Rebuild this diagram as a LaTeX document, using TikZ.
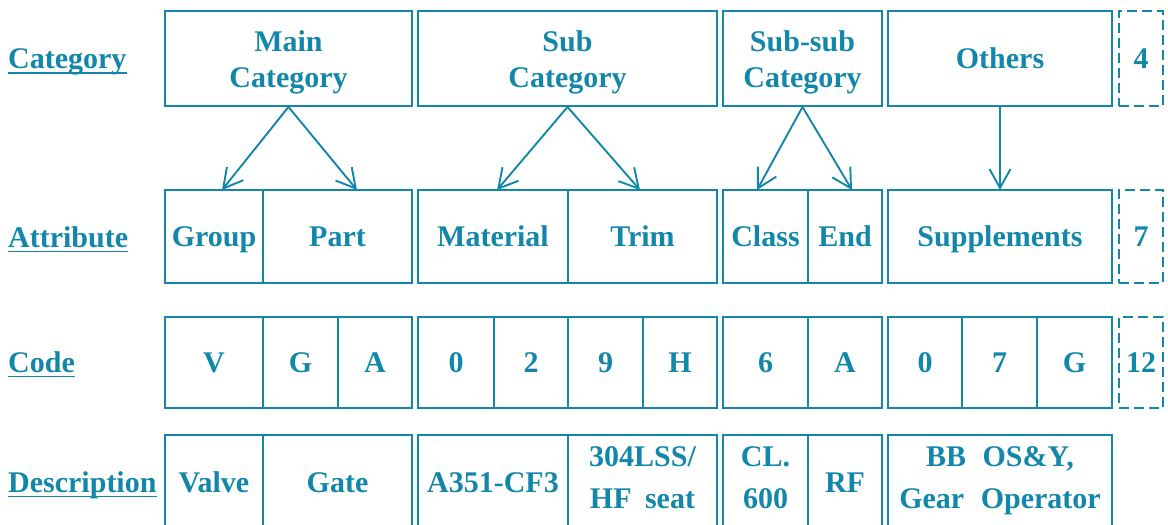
\documentclass[tikz,border=0pt]{standalone}
\usepackage{fontspec}
\setmainfont{Liberation Serif}
\usetikzlibrary{arrows.meta}
\definecolor{ink}{RGB}{18,135,170}
\newcommand\bigbf{\bfseries\fontsize{30}{32}\selectfont}
\tikzset{
  box/.style={draw=ink, line width=1.9pt, inner sep=0pt, text=ink, font=\bigbf,
    text height=19.5pt, text depth=0pt},
  dbox/.style={box, dash pattern=on 10pt off 5pt},
  word/.style={text=ink, font=\bigbf, inner sep=0pt, anchor=base},
  rowlabel/.style={word, anchor=base west},
  uline/.style={draw=ink, line width=1.5pt},
  link/.style={draw=ink, line width=1.9pt,
    -{Straight Barb[length=19pt,width=21pt,line width=1.9pt]}},
}
% \cellbox{name}{x left}{x right}{y top}{y bottom}{text}
\newcommand\cellbox[6]{\node[box, minimum width=#3pt-#2pt, minimum height=#5pt-#4pt]
  (#1) at ({(#2+#3)/2},{(#4+#5)/2}) {#6};}
\newcommand\dcellbox[6]{\node[dbox, minimum width=#3pt-#2pt, minimum height=#5pt-#4pt]
  (#1) at ({(#2+#3)/2},{(#4+#5)/2}) {#6};}
\begin{document}
\begin{tikzpicture}[x=1pt,y=-1pt]
\useasboundingbox (0,0) rectangle (1168,525);

% row labels
\node[rowlabel] (lcat) at (8,68.5) {Category};
\node[rowlabel] (latt) at (8,247) {Attribute};
\node[rowlabel] (lcode) at (8,372) {Code};
\node[rowlabel] (ldesc) at (8,492) {Description};
\foreach \n in {lcat,latt,lcode,ldesc}
  \draw[uline] ([yshift=-4.5pt]\n.base west) -- ([yshift=-4.5pt]\n.base east);

% category row
\cellbox{main}{165}{412}{11}{106}{}
\node[word] (mainA) at (288.5,51) {Main};
\node[word] (mainB) at (288.5,87) {Category};
\cellbox{sub}{418}{717}{11}{106}{}
\node[word] (subA) at (567.5,51) {Sub};
\node[word] (subB) at (567.5,87) {Category};
\cellbox{ssub}{723}{882}{11}{106}{}
\node[word] (ssubA) at (802.5,51) {Sub-sub};
\node[word] (ssubB) at (802.5,87) {Category};
\cellbox{oth}{888}{1112}{11}{106}{Others}
\dcellbox{n4}{1119}{1163}{11}{106}{4}

% attribute row
\cellbox{group}{165}{263}{190}{283}{Group}
\cellbox{part}{263}{412}{190}{283}{Part}
\cellbox{mat}{418}{568}{190}{283}{Material}
\cellbox{trim}{568}{717}{190}{283}{Trim}
\cellbox{class}{723}{808}{190}{283}{Class}
\cellbox{end}{808}{882}{190}{283}{End}
\cellbox{supp}{888}{1112}{190}{283}{Supplements}
\dcellbox{n7}{1119}{1163}{190}{283}{7}

% code row
\cellbox{c1}{165}{263}{317}{408}{V}
\cellbox{c2}{263}{338}{317}{408}{G}
\cellbox{c3}{338}{412}{317}{408}{A}
\cellbox{c4}{418}{494}{317}{408}{0}
\cellbox{c5}{494}{568}{317}{408}{2}
\cellbox{c6}{568}{643}{317}{408}{9}
\cellbox{c7}{643}{717}{317}{408}{H}
\cellbox{c8}{723}{808}{317}{408}{6}
\cellbox{c9}{808}{882}{317}{408}{A}
\cellbox{c10}{888}{962}{317}{408}{0}
\cellbox{c11}{962}{1037}{317}{408}{7}
\cellbox{c12}{1037}{1112}{317}{408}{G}
\dcellbox{n12}{1119}{1163}{317}{408}{12}

% description row (runs past the lower edge)
\cellbox{d1}{165}{263}{435}{530}{Valve}
\cellbox{d2}{263}{412}{435}{530}{Gate}
\cellbox{d3}{418}{568}{435}{530}{A351-CF3}
\cellbox{d4}{568}{717}{435}{530}{}
\node[word] (d4A) at (642.5,466) {304LSS/};
\node[word] (d4B) at (642.5,508) {HF\hspace{0.45em}seat};
\cellbox{d5}{723}{808}{435}{530}{}
\node[word] (d5A) at (765.5,466) {CL.};
\node[word] (d5B) at (765.5,508) {600};
\cellbox{d6}{808}{882}{435}{530}{RF}
\cellbox{d7}{888}{1112}{435}{530}{}
\node[word] (d7A) at (1000,466) {BB\hspace{0.3em} OS\&Y,};
\node[word] (d7B) at (1000,508) {Gear\hspace{0.3em} Operator};

% arrow end points on the attribute row
\coordinate (tGroup) at (222,190);
\coordinate (tPart) at (357,190);
\coordinate (tMat) at (497,190);
\coordinate (tTrim) at (640,190);
\coordinate (tClass) at (757,190);
\coordinate (tEnd) at (852,190);
\coordinate (tSupp) at (1000,190);

\draw[link] (main.south) -- (tGroup);
\draw[link] (main.south) -- (tPart);
\draw[link] (sub.south) -- (tMat);
\draw[link] (sub.south) -- (tTrim);
\draw[link] (ssub.south) -- (tClass);
\draw[link] (ssub.south) -- (tEnd);
\draw[link] (oth.south) -- (tSupp);
\end{tikzpicture}
\end{document}
